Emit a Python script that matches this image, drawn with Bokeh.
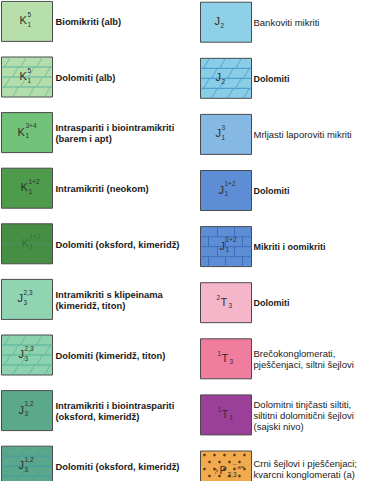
from bokeh.plotting import figure
from bokeh.models import Range1d
from bokeh.embed import file_html
from bokeh.resources import INLINE
from bokeh.core.properties import value

# ---------------- data ----------------
left_labels = [
    ["Biomikriti (alb)"],
    ["Dolomiti (alb)"],
    ["Intraspariti i biointramikriti", "(barem i apt)"],
    ["Intramikriti (neokom)"],
    ["Dolomiti (oksford, kimeridž)"],
    ["Intramikriti s klipeinama", "(kimeridž, titon)"],
    ["Dolomiti (kimeridž, titon)"],
    ["Intramikriti i biointraspariti", "(oksford, kimeridž)"],
    ["Dolomiti (oksford, kimeridž)"],
]
left_base = ["K", "K", "K", "K", "K", "J", "J", "J", "J"]
left_sup = ["5", "5", "3+4", "1+2", "1+2", "2,3", "2,3", "1,2", "1,2"]
left_sub = ["1", "1", "1", "1", "1", "3", "3", "3", "3"]
left_pre = ["", "", "", "", "", "", "", "", ""]
left_pattern = ["plain", "dolomite", "plain", "plain", "line", "plain", "dolomite", "plain", "dolomite"]

right_labels = [
    ["Bankoviti mikriti"],
    ["Dolomiti"],
    ["Mrljasti laporoviti mikriti"],
    ["Dolomiti"],
    ["Mikriti i oomikriti"],
    ["Dolomiti"],
    ["Brečokonglomerati,", "pješčenjaci, siltni šejlovi"],
    ["Dolomitni tinjčasti siltiti,", "siltitni dolomitični šejlovi", "(sajski nivo)"],
    ["Crni šejlovi i pješčenjaci;", "kvarcni konglomerati (a)"],
]
right_base = ["J", "J", "J", "J", "J", "T", "T", "T", "P"]
right_sup = ["", "", "3", "1+2", "1+2", "", "", "", ""]
right_sub = ["2", "2", "1", "1", "1", "3", "3", "1", "2,3"]
right_pre = ["", "", "", "", "", "2", "1", "1", ""]
right_pattern = ["plain", "dolomite", "plain", "plain", "brick", "plain", "plain", "plain", "sand"]

# ---------------- styles ----------------
left_fill = ["#b6dfab", "#b3ddaa", "#73c27a", "#4f9b4c", "#478e45",
             "#90d4b1", "#8dd2ae", "#5ba98a", "#5aa78b"]
left_line = [None, "#55b0a0", None, None, "#3f9a7c", None, "#4fae98", None, "#3f9bab"]
right_fill = ["#8dd0e7", "#8acde6", "#85b8e3", "#5d8ed5", "#5c8dd5",
              "#f5b6c9", "#f07d9d", "#9b4099", "#f2aa4e"]
right_line = [None, "#3b90c8", None, None, "#3d6db8", None, None, None, "#5a3a12"]
left_bold = [True] * 9
right_bold = [False, True, False, True, True, True, False, False, False]
left_dx = [18, 18, 16, 19, 20, 16, 17, 17, 17]
right_dx = [14, 15, 15, 18, 19, 20, 21, 21, 19]

W, H = 362, 481
p = figure(width=W, height=H, output_backend="svg", toolbar_location=None,
           x_range=Range1d(0, W), y_range=Range1d(H, 0), min_border=0,
           background_fill_color="white", border_fill_color="white")
p.axis.visible = False
p.grid.visible = False
p.outline_line_color = None

BW, BH = 51, 40
FONT = value("Liberation Sans")


def draw_column(x0, top0, step, labels, base, sup, sub, pre, pattern, fills, lines, bold, dxs,
                label_x, size_bold, size_reg):
    n = len(labels)
    tops = [top0 + step * i for i in range(n)]
    p.quad(left=[x0] * n, right=[x0 + BW] * n, top=tops, bottom=[t + BH for t in tops],
           fill_color=fills, line_color="#4a4a4a", line_width=1)
    for i in range(n):
        t = tops[i]
        lc = lines[i]
        pat = pattern[i]
        if pat in ("dolomite", "line", "brick"):
            hy = [t + 10, t + 20, t + 30] if pat != "line" else [t + 20]
            p.segment(x0=[x0] * len(hy), x1=[x0 + BW] * len(hy), y0=hy, y1=hy,
                      line_color=lc, line_width=1, line_alpha=0.9 if pat != "line" else 0.5)
        if pat == "dolomite":
            xs0, xs1, ys0, ys1 = [], [], [], []
            for band in range(4):
                yb, yt = t + 10 * band + 10, t + 10 * band
                xx = 3 + (band % 2) * 8
                while xx + 6 <= BW - 1:
                    xs0.append(x0 + xx); xs1.append(x0 + xx + 6)
                    ys0.append(yb); ys1.append(yt)
                    xx += 16
            p.segment(x0=xs0, x1=xs1, y0=ys0, y1=ys1, line_color=lc, line_width=0.8, line_alpha=0.85)
        if pat == "brick":
            xs, ys0, ys1 = [], [], []
            for r in range(4):
                offs = [17, 34] if r % 2 == 0 else [8, 25, 42]
                for o in offs:
                    xs.append(x0 + o); ys0.append(t + 10 * r); ys1.append(t + 10 * r + 10)
            p.segment(x0=xs, x1=xs, y0=ys0, y1=ys1, line_color=lc, line_width=1)
        if pat == "sand":
            dx_, dy_ = [], []
            for r, yy in enumerate([4, 11, 18, 25, 32, 38]):
                for xx in range(4 + (r % 2) * 5, BW - 2, 10):
                    dx_.append(x0 + xx); dy_.append(t + yy)
            p.scatter(dx_, dy_, size=1.8, color=lc)
            p.text(x=[x0 + 13], y=[t + 20], text=["?"], text_font=FONT, text_font_size="8px",
                   text_color="#4a3010", text_baseline="middle")
            p.text(x=[x0 + 31], y=[t + 16], text=["⌒ǝ="], text_font=FONT, text_font_size="6px",
                   text_color="#4a3010", text_baseline="middle")
        # symbol
        bx = x0 + dxs[i]
        cy = t + 19
        col = "#2e2e2e" if pat != "line" else "#2a5a2a"
        alpha = 1.0 if pat != "line" else 0.6
        if pre[i]:
            p.text(x=[bx - 4], y=[cy - 4], text=[pre[i]], text_font=FONT, text_font_size="6.5px",
                   text_color=col, text_baseline="middle", text_alpha=alpha)
        p.text(x=[bx], y=[cy], text=[base[i]], text_font=FONT, text_font_size="11px",
               text_color=col, text_baseline="middle", text_alpha=alpha)
        wbase = 7.5 if base[i] in ("K", "P", "T") else 5.5
        if sup[i]:
            p.text(x=[bx + wbase + 0.5], y=[cy - 6], text=[sup[i]], text_font=FONT, text_font_size="6.5px",
                   text_color=col, text_baseline="middle", text_alpha=alpha)
        if sub[i]:
            p.text(x=[bx + wbase + 0.5], y=[cy + 4], text=[sub[i]], text_font=FONT, text_font_size="6.5px",
                   text_color=col, text_baseline="middle", text_alpha=alpha)
        # label
        ls = labels[i]
        nl = len(ls)
        lh = 11.3
        cyl = t + 20.5
        ys = [cyl + (k - (nl - 1) / 2) * lh for k in range(nl)]
        over = ys[-1] - (H - 7)
        if over > 0:
            ys = [y - over for y in ys]
        p.text(x=[label_x] * nl, y=ys, text=ls, text_font=FONT,
               text_font_size=size_bold if bold[i] else size_reg,
               text_font_style="bold" if bold[i] else "normal",
               text_color="#1a1a1a", text_baseline="middle")


draw_column(1, 0.9, 55.6, left_labels, left_base, left_sup, left_sub, left_pre, left_pattern,
            left_fill, left_line, left_bold, left_dx, 55, "9.4px", "10.3px")
draw_column(200, 1.7, 56.1, right_labels, right_base, right_sup, right_sub, right_pre, right_pattern,
            right_fill, right_line, right_bold, right_dx, 253, "9px", "9.5px")

open("out.html", "w").write(file_html(p, INLINE))
